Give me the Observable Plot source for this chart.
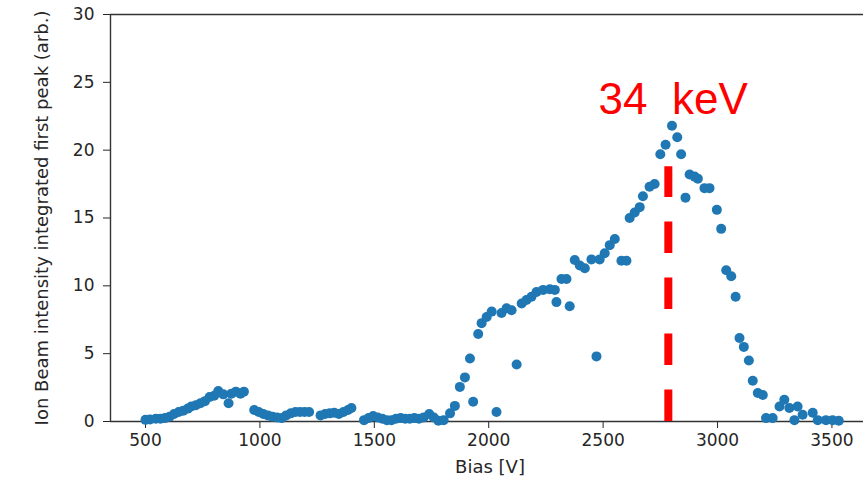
<!DOCTYPE html>
<html><head><meta charset="utf-8">
<script src="https://cdn.jsdelivr.net/npm/d3@7"></script>
<script src="https://cdn.jsdelivr.net/npm/@observablehq/plot@0.6"></script>
<style>
html,body{margin:0;padding:0;background:#fff;}
#chart text{white-space:pre;}
</style></head><body><div id="chart"></div>
<script>
const bias = [
  500,520,545,565,585,605,625,645,665,685,700,720,740,760,780,800,818,840,863,875,895,915,930,
  975,995,1015,1035,1055,1075,1095,1115,1135,1155,1175,1195,1215,
  1265,1285,1305,1325,1345,1365,1385,1400,
  1455,1475,1495,1515,1535,1555,1575,1595,1615,1635,1655,1675,1695,1715,1740,1760,1780,
  1803,1831,1852,1874,1896,1918,1932,1954,1969,1991,2013,2034,2056,2078,2100,2122,2144,2165,2187,2209,
  2238,2267,2289,2296,2318,2340,2354,2376,2398,2420,2449,2471,2485,2507,2529,2551,2580,2602,2616,2638,
  2660,2674,2703,2725,2750,2773,2801,2824,2841,2860,2878,2900,2914,2943,2965,2997,3016,3038,3060,3079,
  3096,3115,3137,3154,3176,3198,3212,3241,3271,3292,3314,3336,3350,3372,3416,3438,3474,3503,3530
];
const intensity = [
  0.12,0.15,0.2,0.2,0.25,0.35,0.55,0.7,0.8,0.95,1.1,1.2,1.35,1.5,1.8,1.9,2.25,2.0,1.35,2.05,2.2,2.05,2.2,
  0.85,0.7,0.55,0.45,0.35,0.3,0.25,0.45,0.6,0.7,0.7,0.7,0.7,
  0.45,0.55,0.6,0.65,0.55,0.7,0.85,1.0,
  0.1,0.25,0.4,0.3,0.2,0.1,0.1,0.2,0.25,0.2,0.2,0.25,0.2,0.3,0.55,0.3,0.05,
  0.1,0.6,1.15,2.55,3.25,4.65,1.45,6.45,7.25,7.7,8.1,0.7,8.0,8.35,8.2,4.2,8.7,8.95,9.2,9.55,
  9.7,9.75,9.7,8.8,10.5,10.5,8.5,11.9,11.5,11.3,11.95,4.8,11.95,12.4,13.0,13.45,11.85,11.85,15.0,15.4,
  15.8,16.6,17.3,17.5,19.7,20.4,21.8,20.95,19.7,16.5,18.2,18.05,17.9,17.2,17.2,15.6,14.2,11.15,10.7,9.2,
  6.15,5.5,4.5,3.0,2.1,1.95,0.25,0.25,1.1,1.6,1.0,0.1,1.1,0.5,0.65,0.1,0.1,0.1,0.05
];
const xTicks = [500,1000,1500,2000,2500,3000,3500];
const yTicks = [0,5,10,15,20,25,30];
const xDomain = [347, 3638];
const yDomain = [0, 30];
const markerBias = [2785];
const markerTop = [18.78];
const annotationText = ["34  keV"];
const annotationBias = [2480];
const annotationY = [22.68];
const xLabel = ["Bias [V]"];
const yLabel = ["Ion Beam intensity integrated first peak (arb.)"];

const data = bias.map((b, i) => ({bias: b, intensity: intensity[i]}));
const marker = markerBias.map((b, i) => ({bias: b, top: markerTop[i]}));
const annot = annotationText.map((t, i) => ({t, x: annotationBias[i], y: annotationY[i]}));
const spine = "#333";

const chart = Plot.plot({
  width: 863, height: 485,
  marginLeft: 110, marginRight: 0, marginTop: 14, marginBottom: 64,
  style: {fontFamily: "DejaVu Sans", fontSize: "17px", color: "#262626", background: "#fff"},
  x: {domain: xDomain},
  y: {domain: yDomain},
  marks: [
    Plot.axisX({ticks: xTicks, tickFormat: d => String(d), tickSize: 7, tickPadding: 5, label: null, fontSize: 17}),
    Plot.axisY({ticks: yTicks, tickFormat: d => String(d), tickSize: 7, tickPadding: 9, label: null, fontSize: 17}),
    Plot.ruleY([yDomain[0]], {stroke: spine, strokeWidth: 1.4}),
    Plot.ruleY([yDomain[1]], {stroke: spine, strokeWidth: 1.4}),
    Plot.ruleX([xDomain[0]], {stroke: spine, strokeWidth: 1.4}),
    Plot.dot(data, {x: "bias", y: "intensity", r: 5, fill: "#1f77b4"}),
    Plot.ruleX(marker, {x: "bias", y1: 0, y2: "top", stroke: "red", strokeWidth: 8, strokeDasharray: "31.6,24.4"}),
    Plot.text(annot, {x: "x", y: "y", text: "t", textAnchor: "start", lineAnchor: "bottom",
      fill: "red", fontSize: 44, fontFamily: "Liberation Sans"}),
    Plot.text(yLabel, {text: d => d, frameAnchor: "left", rotate: -90, dx: -68,
      textAnchor: "middle", lineAnchor: "middle", fontSize: 18, fill: "#262626"}),
    Plot.text(xLabel, {text: d => d, frameAnchor: "bottom", dy: 46, dx: 3,
      textAnchor: "middle", lineAnchor: "middle", fontSize: 18, fill: "#262626"})
  ]
});
document.getElementById("chart").appendChild(chart);
</script></body></html>
